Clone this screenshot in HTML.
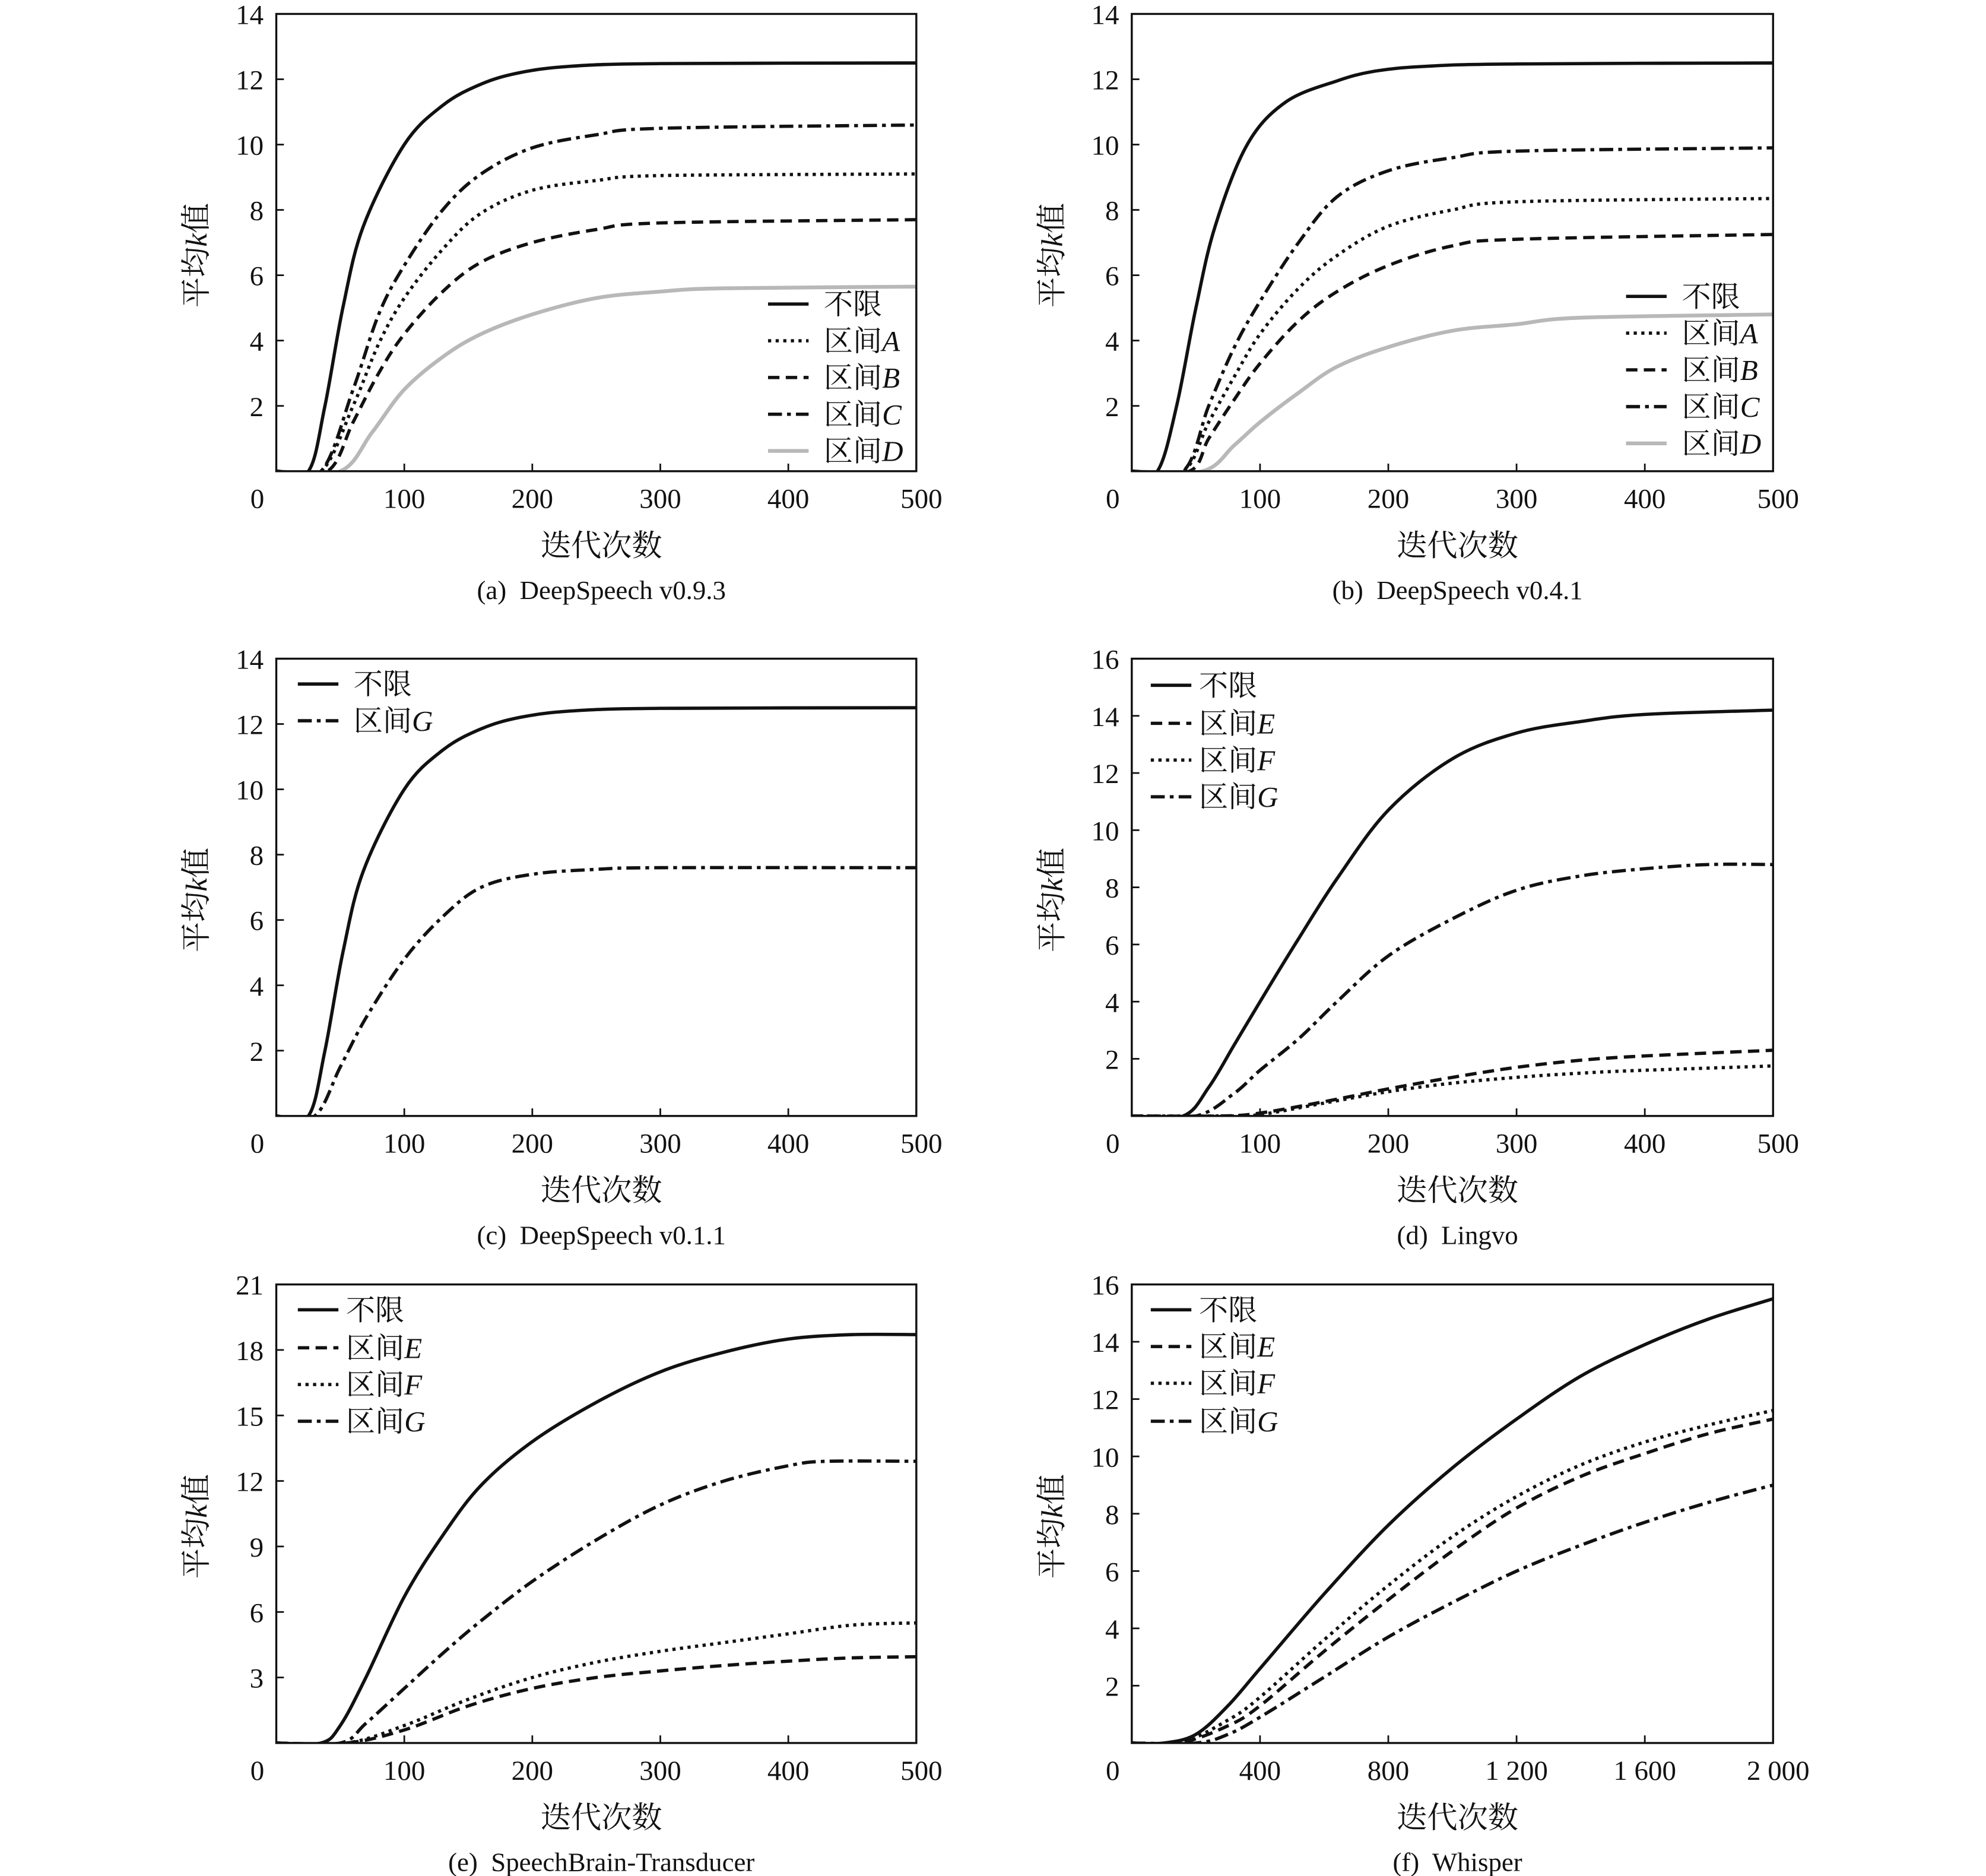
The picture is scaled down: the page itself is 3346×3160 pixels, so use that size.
<!DOCTYPE html>
<html><head><meta charset="utf-8"><style>
html,body{margin:0;padding:0;background:#fff;}
svg{display:block;}
text{font-family:"Liberation Serif","Noto Serif CJK SC","Noto Sans CJK SC",serif;fill:#111;}
</style></head><body>
<svg id="s" width="3346" height="3160" viewBox="0 0 1567 1481" preserveAspectRatio="none" xmlns="http://www.w3.org/2000/svg"></svg>
<script>
const S=document.getElementById('s');let h='';
const styles={
 solid:'stroke:#111;stroke-width:2.6',
 dot:'stroke:#111;stroke-width:2.6;stroke-dasharray:2.5 3.5',
 dash:'stroke:#111;stroke-width:2.6;stroke-dasharray:9 5',
 dashdot:'stroke:#111;stroke-width:2.6;stroke-dasharray:11 4 3 4',
 grey:'stroke:#b8b8b8;stroke-width:3'
};
function path(pts,X,Y){
 const P=pts.map(p=>[X(p[0]),Y(p[1])]);let d='M'+P[0][0]+','+P[0][1];
 for(let i=0;i<P.length-1;i++){const p0=P[Math.max(0,i-1)],p1=P[i],p2=P[i+1],p3=P[Math.min(P.length-1,i+2)];
  const c1=[p1[0]+(p2[0]-p0[0])/6,p1[1]+(p2[1]-p0[1])/6],c2=[p2[0]-(p3[0]-p1[0])/6,p2[1]-(p3[1]-p1[1])/6];
  d+=`C${c1[0].toFixed(1)},${c1[1].toFixed(1)} ${c2[0].toFixed(1)},${c2[1].toFixed(1)} ${p2[0].toFixed(1)},${p2[1].toFixed(1)}`;}
 return d;}
function panel(o){
 const{x0,x1,y0,y1,xmax,ymax,yt,xt,xl,series,leg,cap}=o;
 const X=v=>x0+(x1-x0)*v/xmax,Y=v=>y1-(y1-y0)*v/ymax;
 h+=`<clipPath id="c${x0}${y0}"><rect x="${x0}" y="${y0}" width="${x1-x0}" height="${y1-y0}"/></clipPath>`;
 for(const s of series)h+=`<path d="${path(s[1],X,Y)}" style="fill:none;${styles[s[0]]}" clip-path="url(#c${x0}${y0})"/>`;
 h+=`<rect x="${x0}" y="${y0}" width="${x1-x0}" height="${y1-y0}" style="fill:none;stroke:#111;stroke-width:1.6"/>`;
 for(const t of yt){const y=Y(t);h+=`<line x1="${x0}" x2="${x0+6}" y1="${y}" y2="${y}" stroke="#111" stroke-width="1.3"/><text x="${x0-10}" y="${y+8}" font-size="22" text-anchor="end">${t}</text>`;}
 xt.forEach((t,i)=>{const x=X(t);if(i>0&&i<xt.length-1)h+=`<line x1="${x}" x2="${x}" y1="${y1}" y2="${y1-6}" stroke="#111" stroke-width="1.3"/>`;
  h+=`<text x="${i==0?x0-15:x+(i==xt.length-1?4:0)}" y="${y1+29}" font-size="22" text-anchor="middle">${xl[i]}</text>`;});
 const cx=(x0+x1)/2+4;
 h+=`<text x="${cx}" y="${y1+67}" font-size="24" text-anchor="middle">迭代次数</text>`;
 h+=`<text x="${cx}" y="${y1+101}" font-size="21" text-anchor="middle">${cap}</text>`;
 const ym=(y0+y1)/2+10;
 h+=`<text transform="translate(${x0-55},${ym}) rotate(-90)" font-size="24" text-anchor="middle">平均<tspan font-style="italic">k</tspan>值</text>`;
 for(const l of leg){h+=`<line x1="${l[1]}" x2="${l[1]+32}" y1="${l[3]}" y2="${l[3]}" style="${styles[l[0]]}"/><text x="${l[2]}" y="${l[3]+8}" font-size="23">${l[4]}</text>`;}
}
const FU='不限',It=c=>`区间<tspan font-style="italic">${c}</tspan>`;
const a_un=[[0,0],[25,0],[38,2],[52,5],[68,7.5],[100,10],[130,11.2],[160,11.85],[190,12.2],[230,12.4],[300,12.48],[500,12.5]];
panel({x0:218,x1:723,y0:11,y1:372,xmax:500,ymax:14,yt:[2,4,6,8,10,12,14],xt:[0,100,200,300,400,500],xl:[0,100,200,300,400,500],cap:'(a)&#160; DeepSpeech v0.9.3',
 series:[['grey',[[0,0],[50,0],[75,1.2],[100,2.5],[130,3.5],[160,4.2],[200,4.8],[250,5.3],[300,5.5],[350,5.6],[500,5.65]]],
 ['solid',a_un],
 ['dashdot',[[0,0],[35,0],[60,2.5],[80,4.8],[100,6.3],[130,8],[160,9.1],[200,9.9],[250,10.3],[300,10.5],[500,10.6]]],
 ['dot',[[0,0],[35,0],[60,2],[80,3.9],[100,5.3],[130,6.8],[160,7.9],[200,8.6],[250,8.9],[300,9.05],[500,9.1]]],
 ['dash',[[0,0],[40,0],[60,1.5],[80,3],[100,4.2],[130,5.5],[160,6.4],[200,7.0],[250,7.4],[300,7.6],[500,7.7]]]],
 leg:[['solid',606,650,240,FU],['dot',606,650,269,It('A')],['dash',606,650,298,It('B')],['dashdot',606,650,327,It('C')],['grey',606,650,356,It('D')]]});
panel({x0:893,x1:1399,y0:11,y1:372,xmax:500,ymax:14,yt:[2,4,6,8,10,12,14],xt:[0,100,200,300,400,500],xl:[0,100,200,300,400,500],cap:'(b)&#160; DeepSpeech v0.4.1',
 series:[['grey',[[0,0],[55,0],[80,0.8],[100,1.5],[130,2.4],[160,3.2],[200,3.8],[250,4.3],[300,4.5],[350,4.7],[500,4.8]]],
 ['solid',[[0,0],[20,0],[35,2],[50,5],[65,7.5],[90,10],[120,11.3],[160,11.95],[190,12.25],[230,12.4],[300,12.47],[500,12.5]]],
 ['dashdot',[[0,0],[40,0],[60,2],[80,3.8],[100,5.2],[130,7],[160,8.4],[200,9.2],[250,9.6],[300,9.8],[500,9.9]]],
 ['dot',[[0,0],[40,0],[60,1.5],[80,2.9],[100,4.2],[130,5.6],[160,6.6],[200,7.5],[250,8.0],[300,8.25],[500,8.35]]],
 ['dash',[[0,0],[45,0],[60,1],[80,2.2],[100,3.3],[130,4.6],[160,5.5],[200,6.3],[250,6.9],[300,7.1],[500,7.25]]]],
 leg:[['solid',1283,1327,234,FU],['dot',1283,1327,263,It('A')],['dash',1283,1327,292,It('B')],['dashdot',1283,1327,321,It('C')],['grey',1283,1327,350,It('D')]]});
panel({x0:218,x1:723,y0:520,y1:881,xmax:500,ymax:14,yt:[2,4,6,8,10,12,14],xt:[0,100,200,300,400,500],xl:[0,100,200,300,400,500],cap:'(c)&#160; DeepSpeech v0.1.1',
 series:[['solid',a_un],['dashdot',[[0,0],[30,0],[50,1.5],[70,3],[100,4.8],[130,6.1],[160,7],[200,7.4],[250,7.55],[300,7.6],[500,7.6]]]],
 leg:[['solid',235,279,540,FU],['dashdot',235,279,569,It('G')]]});
panel({x0:893,x1:1399,y0:520,y1:881,xmax:500,ymax:16,yt:[2,4,6,8,10,12,14,16],xt:[0,100,200,300,400,500],xl:[0,100,200,300,400,500],cap:'(d)&#160; Lingvo',
 series:[['solid',[[0,0],[40,0],[60,1],[80,2.5],[100,4],[130,6.2],[160,8.3],[200,10.7],[250,12.5],[300,13.4],[350,13.8],[400,14.05],[500,14.2]]],
 ['dashdot',[[0,0],[50,0],[80,0.8],[100,1.6],[130,2.7],[160,4],[200,5.6],[250,6.9],[300,7.9],[350,8.4],[400,8.65],[450,8.8],[500,8.8]]],
 ['dash',[[0,0],[70,0],[100,0.1],[150,0.5],[200,0.95],[250,1.35],[300,1.7],[350,1.95],[400,2.1],[500,2.3]]],
 ['dot',[[0,0],[70,0],[100,0.05],[150,0.45],[200,0.85],[250,1.15],[300,1.35],[350,1.5],[400,1.6],[500,1.75]]]],
 leg:[['solid',908,946,541,FU],['dash',908,946,571,It('E')],['dot',908,946,600,It('F')],['dashdot',908,946,629,It('G')]]});
panel({x0:218,x1:723,y0:1014,y1:1376,xmax:500,ymax:21,yt:[3,6,9,12,15,18,21],xt:[0,100,200,300,400,500],xl:[0,100,200,300,400,500],cap:'(e)&#160; SpeechBrain-Transducer',
 series:[['solid',[[0,0],[35,0],[50,0.8],[70,3],[100,6.7],[130,9.5],[160,11.8],[200,13.8],[250,15.6],[300,17],[350,17.9],[400,18.5],[450,18.7],[500,18.7]]],
 ['dashdot',[[0,0],[50,0],[70,0.9],[100,2.5],[130,4.1],[160,5.6],[200,7.4],[250,9.3],[300,10.9],[350,12],[400,12.7],[430,12.9],[500,12.9]]],
 ['dot',[[0,0],[55,0],[100,0.8],[150,2],[200,3],[250,3.7],[300,4.2],[350,4.6],[400,5],[450,5.4],[500,5.5]]],
 ['dash',[[0,0],[55,0],[100,0.6],[150,1.7],[200,2.5],[250,3],[300,3.3],[350,3.55],[400,3.75],[450,3.9],[500,3.95]]]],
 leg:[['solid',235,273,1034,FU],['dash',235,273,1064,It('E')],['dot',235,273,1093,It('F')],['dashdot',235,273,1122,It('G')]]});
panel({x0:893,x1:1399,y0:1014,y1:1376,xmax:2000,ymax:16,yt:[2,4,6,8,10,12,14,16],xt:[0,400,800,1200,1600,2000],xl:[0,400,800,'1 200','1 600','2 000'],cap:'(f)&#160; Whisper',
 series:[['solid',[[0,0],[100,0],[200,0.3],[300,1.3],[400,2.6],[600,5.2],[800,7.6],[1000,9.6],[1200,11.3],[1400,12.8],[1600,13.9],[1800,14.8],[2000,15.5]]],
 ['dot',[[0,0],[150,0],[300,0.8],[400,1.6],[600,3.6],[800,5.5],[1000,7.2],[1200,8.6],[1400,9.7],[1600,10.5],[1800,11.1],[2000,11.6]]],
 ['dash',[[0,0],[150,0],[300,0.6],[400,1.3],[600,3.2],[800,5],[1000,6.7],[1200,8.2],[1400,9.3],[1600,10.1],[1800,10.8],[2000,11.3]]],
 ['dashdot',[[0,0],[200,0],[300,0.3],[400,0.9],[600,2.3],[800,3.7],[1000,4.9],[1200,6],[1400,6.9],[1600,7.7],[1800,8.4],[2000,9]]]],
 leg:[['solid',908,946,1034,FU],['dash',908,946,1063,It('E')],['dot',908,946,1092,It('F')],['dashdot',908,946,1122,It('G')]]});
S.innerHTML=h;
</script>
</body></html>
